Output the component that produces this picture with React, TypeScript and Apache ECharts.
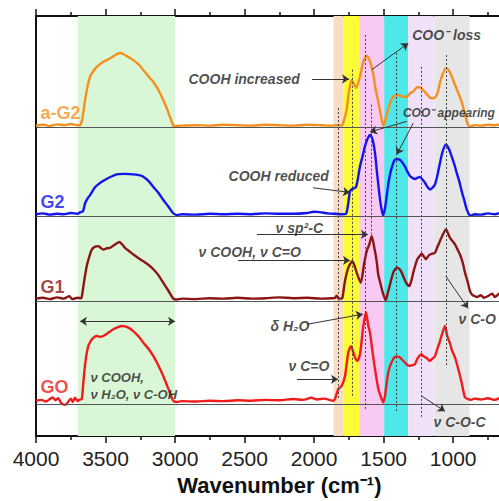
import React, { useEffect, useRef } from 'react';
import * as echarts from 'echarts';

const FONT = '"Liberation Sans", Arial, Helvetica, sans-serif';

// Wavenumber (cm-1), relative absorbance above each trace's baseline
const aG2 = [
  [4000, 0.05], [3950, 0.07], [3900, 0.04], [3850, 0.08], [3800, 0.06], [3750, 0.09], [3700, 0.06],
  [3680, 0.07], [3665, 0.25], [3640, 0.8], [3612, 1.21], [3580, 1.38], [3563, 1.45], [3516, 1.57],
  [3468, 1.65], [3420, 1.75], [3396, 1.78], [3370, 1.75], [3330, 1.67], [3300, 1.61], [3260, 1.5],
  [3228, 1.37], [3190, 1.22], [3156, 1.09], [3120, 0.9], [3085, 0.66], [3050, 0.38], [3013, 0.05],
  [3000, 0.04], [2950, 0.05], [2850, 0.06], [2750, 0.05], [2650, 0.07], [2550, 0.06], [2450, 0.05],
  [2350, 0.07], [2250, 0.06], [2150, 0.05], [2050, 0.07], [1950, 0.06], [1880, 0.05], [1830, 0.06],
  [1800, 0.05], [1792, 0.1], [1766, 0.43], [1750, 0.85], [1730, 1.14], [1715, 1.05], [1699, 0.95],
  [1670, 1.22], [1646, 1.57], [1622, 1.71], [1598, 1.58], [1574, 1.27], [1560, 0.95], [1539, 0.62],
  [1520, 0.3], [1503, 0.05], [1490, 0.15], [1469, 0.43], [1450, 0.62], [1433, 0.73], [1415, 0.77],
  [1397, 0.78], [1370, 0.75], [1350, 0.73], [1332, 0.74], [1310, 0.82], [1289, 0.86], [1270, 0.93],
  [1253, 0.97], [1235, 0.95], [1217, 0.9], [1190, 0.8], [1167, 0.71], [1150, 0.7], [1131, 0.72],
  [1110, 0.85], [1095, 1.07], [1075, 1.28], [1052, 1.42], [1030, 1.36], [1009, 1.21], [990, 1.05],
  [973, 0.9], [955, 0.76], [937, 0.59], [920, 0.38], [901, 0.14], [890, 0.05], [879, 0.03],
  [850, 0.06], [800, 0.05], [750, 0.07], [700, 0.06], [650, 0.08], [600, 0.05], [550, 0.06], [500, 0.05],
];

const g2 = [
  [4000, 0.05], [3950, 0.07], [3900, 0.04], [3850, 0.06], [3800, 0.05], [3750, 0.08], [3700, 0.06],
  [3680, 0.1], [3662, 0.12], [3648, 0.3], [3630, 0.42], [3612, 0.5], [3576, 0.69], [3545, 0.78],
  [3518, 0.84], [3470, 0.93], [3418, 1.0], [3360, 1.01], [3302, 1.0], [3260, 0.98], [3231, 0.95],
  [3190, 0.84], [3159, 0.71], [3120, 0.56], [3087, 0.4], [3050, 0.24], [3015, 0.08], [2986, 0.03],
  [2950, 0.05], [2850, 0.04], [2750, 0.06], [2650, 0.05], [2550, 0.06], [2450, 0.05], [2350, 0.07],
  [2250, 0.06], [2150, 0.06], [2050, 0.08], [2000, 0.11], [1960, 0.1], [1900, 0.07], [1850, 0.06],
  [1800, 0.05], [1771, 0.06], [1755, 0.3], [1742, 0.6], [1730, 0.64], [1718, 0.66], [1699, 0.7],
  [1685, 0.9], [1670, 1.19], [1650, 1.45], [1634, 1.67], [1615, 1.85], [1598, 1.94], [1585, 1.88],
  [1574, 1.75], [1560, 1.45], [1550, 1.11], [1526, 0.4], [1512, 0.12], [1503, 0.02], [1490, 0.2],
  [1478, 0.48], [1465, 0.8], [1449, 1.07], [1430, 1.28], [1418, 1.35], [1400, 1.36], [1382, 1.35],
  [1365, 1.28], [1347, 1.19], [1330, 1.07], [1311, 0.96], [1290, 0.91], [1275, 0.89], [1255, 0.92],
  [1239, 0.94], [1220, 0.87], [1203, 0.8], [1185, 0.7], [1167, 0.64], [1150, 0.68], [1131, 0.76],
  [1115, 0.95], [1095, 1.27], [1075, 1.55], [1052, 1.71], [1030, 1.6], [1011, 1.43], [990, 1.22],
  [975, 1.04], [955, 0.82], [939, 0.6], [920, 0.38], [903, 0.17], [885, 0.04], [867, 0.02],
  [850, 0.05], [800, 0.04], [750, 0.07], [700, 0.05], [650, 0.09], [600, 0.06], [500, 0.05],
];

const g1 = [
  [4000, 0.06], [3950, 0.08], [3900, 0.05], [3850, 0.09], [3800, 0.06], [3760, 0.12], [3740, 0.05],
  [3700, 0.08], [3680, 0.07], [3671, 0.1], [3655, 0.45], [3635, 0.84], [3615, 1.08], [3599, 1.23],
  [3575, 1.3], [3552, 1.31], [3535, 1.27], [3516, 1.23], [3490, 1.26], [3468, 1.27], [3440, 1.33],
  [3401, 1.41], [3380, 1.35], [3360, 1.27], [3330, 1.19], [3300, 1.11], [3265, 1.03], [3228, 0.95],
  [3190, 0.86], [3156, 0.76], [3120, 0.62], [3085, 0.44], [3050, 0.26], [3013, 0.06], [2990, 0.04],
  [2950, 0.06], [2850, 0.05], [2750, 0.07], [2650, 0.06], [2550, 0.08], [2450, 0.06], [2350, 0.07],
  [2250, 0.09], [2150, 0.07], [2050, 0.08], [1950, 0.06], [1880, 0.07], [1850, 0.08], [1838, 0.13],
  [1825, 0.07], [1800, 0.06], [1795, 0.1], [1778, 0.48], [1754, 0.8], [1725, 0.95], [1710, 0.85],
  [1694, 0.68], [1665, 0.44], [1641, 0.88], [1622, 1.19], [1603, 1.35], [1586, 1.55], [1567, 1.27],
  [1550, 0.95], [1539, 0.64], [1520, 0.38], [1503, 0.17], [1485, 0.02], [1470, 0.2], [1454, 0.4],
  [1440, 0.58], [1426, 0.72], [1402, 0.8], [1385, 0.76], [1370, 0.68], [1339, 0.44], [1316, 0.36],
  [1300, 0.5], [1287, 0.68], [1270, 0.88], [1258, 1.0], [1240, 1.08], [1226, 1.13], [1210, 1.06],
  [1196, 1.0], [1180, 1.07], [1167, 1.11], [1150, 1.13], [1131, 1.15], [1115, 1.28], [1095, 1.43],
  [1075, 1.58], [1052, 1.71], [1035, 1.6], [1023, 1.51], [1005, 1.43], [987, 1.35], [970, 1.24],
  [951, 1.11], [930, 0.9], [915, 0.68], [895, 0.45], [879, 0.24], [860, 0.14], [850, 0.13],
  [830, 0.1], [800, 0.14], [780, 0.08], [750, 0.12], [720, 0.18], [700, 0.1], [680, 0.15],
  [650, 0.22], [600, 0.12], [550, 0.15], [500, 0.1],
];

const go = [
  [4000, 0.08], [3960, 0.1], [3930, 0.06], [3900, 0.12], [3880, 0.16], [3860, 0.09], [3840, 0.14],
  [3820, 0.03], [3790, -0.02], [3770, 0.05], [3750, 0.13], [3735, 0.05], [3720, 0.15], [3700, 0.07],
  [3690, 0.1], [3671, 0.12], [3660, 0.5], [3648, 0.91], [3636, 1.2], [3624, 1.38], [3610, 1.48],
  [3599, 1.54], [3580, 1.6], [3563, 1.62], [3540, 1.6], [3516, 1.62], [3480, 1.7], [3444, 1.78],
  [3410, 1.83], [3384, 1.86], [3360, 1.85], [3336, 1.82], [3305, 1.75], [3276, 1.66], [3250, 1.56],
  [3228, 1.46], [3190, 1.31], [3156, 1.14], [3120, 0.92], [3085, 0.67], [3050, 0.38], [3013, 0.08],
  [2990, 0.05], [2950, 0.07], [2850, 0.06], [2750, 0.08], [2650, 0.07], [2550, 0.09], [2450, 0.08],
  [2350, 0.1], [2250, 0.09], [2150, 0.12], [2080, 0.1], [2020, 0.15], [1980, 0.11], [1930, 0.13],
  [1880, 0.09], [1860, 0.08], [1850, 0.12], [1826, 0.36], [1802, 0.43], [1778, 0.67], [1754, 1.23],
  [1735, 1.38], [1720, 1.25], [1706, 1.11], [1690, 1.03], [1677, 1.1], [1665, 1.3], [1646, 1.86],
  [1627, 2.19], [1610, 1.86], [1598, 1.7], [1582, 1.3], [1562, 0.83], [1538, 0.36], [1514, 0.12],
  [1503, 0.04], [1490, 0.2], [1478, 0.51], [1465, 0.78], [1449, 0.95], [1430, 1.08], [1418, 1.13],
  [1400, 1.13], [1382, 1.11], [1365, 1.05], [1347, 0.99], [1330, 0.93], [1311, 0.91], [1290, 0.93],
  [1275, 0.95], [1262, 1.05], [1251, 1.11], [1240, 1.16], [1226, 1.18], [1210, 1.13], [1196, 1.11],
  [1180, 1.06], [1167, 1.03], [1150, 1.08], [1131, 1.14], [1115, 1.3], [1095, 1.5], [1075, 1.72],
  [1059, 1.86], [1045, 1.65], [1034, 1.54], [1020, 1.42], [1011, 1.3], [987, 1.11], [963, 0.83],
  [939, 0.51], [915, 0.16], [891, 0.12], [870, 0.1], [850, 0.13], [800, 0.11], [750, 0.14],
  [700, 0.1], [650, 0.16], [600, 0.12], [500, 0.1],
];

const traceNames = ['a-G2', 'G2', 'G1', 'GO'];
const traceOffsets = [7.34, 5.23, 3.21, 0.76];
const traceColors = ['#f5901e', '#1414ee', '#8b1515', '#f01c1c'];
const traceData = [aG2, g2, g1, go];

// band ranges (cm-1)
const bandRanges = [
  [3700, 3000], [1860, 1790], [1790, 1676], [1676, 1496], [1496, 1324], [1324, 1140], [1137, 882],
];
const bandColors = ['#d9f7d6', '#f8dcc4', '#fbfb37', '#f8c9f3', '#4ee7ea', '#f0e1f8', '#e6e6e6'];

// dotted guide lines: wavenumber, top, bottom
const guideLines = [
  [1826, 7.81, 0.88], [1725, 8.72, 0.95], [1629, 9.55, 0.64], [1586, 7.89, 4.8],
  [1406, 9.12, 0.57], [1226, 8.79, 0.45], [1052, 9.07, 1.64],
];

const notes = [
  { text: 'COOH increased', at: [2907, 8.5], size: 14 },
  { text: 'COO\u207B loss', at: [1298, 9.55], size: 14 },
  { text: 'COO\u207B appearing', at: [1365, 7.7], size: 12 },
  { text: 'COOH reduced', at: [2619, 6.18], size: 14 },
  { text: '\u03BD sp\u00B2-C', at: [2281, 4.96], size: 14 },
  { text: '\u03BD COOH, \u03BD C=O', at: [2835, 4.37], size: 14 },
  { text: '\u03B4 H\u2082O', at: [2317, 2.61], size: 14 },
  { text: '\u03BD C=O', at: [2188, 1.66], size: 14 },
  { text: '\u03BD C-O', at: [965, 2.78], size: 14 },
  { text: '\u03BD C-O-C', at: [1145, 0.33], size: 14 },
  { text: '\u03BD COOH,', at: [3612, 1.4], size: 13 },
  { text: '\u03BD H\u2082O, \u03BD C-OH', at: [3612, 1.0], size: 13 },
];

const arrows = [
  { from: [2015, 8.5], to: [1749, 8.5], both: false },
  { from: [1586, 8.72], to: [1323, 9.35], both: false },
  { from: [1334, 7.49], to: [1598, 7.24], both: false },
  { from: [1287, 7.45], to: [1406, 6.7], both: false },
  { from: [2008, 5.91], to: [1742, 5.8], both: false },
  { from: [2411, 4.8], to: [1613, 4.8], both: false },
  { from: [2547, 4.18], to: [1742, 4.18], both: false },
  { from: [2051, 2.66], to: [1649, 2.9], both: false },
  { from: [2123, 1.35], to: [1828, 1.35], both: false },
  { from: [1052, 3.8], to: [893, 3.04], both: false },
  { from: [1226, 0.95], to: [1059, 0.59], both: false },
  { from: [3684, 2.73], to: [3000, 2.73], both: true },
];

const labelPos = [[3971, 7.7], [3971, 5.56], [3971, 3.54], [3971, 1.16]];

const CHART_W = 540;
const CHART_H = 501;
const GRID_LEFT = 36;
const GRID_TOP = 16;
const GRID_BOTTOM = 64;
const PLOT_W = 486.7;

function buildOption(): any {
  const axisCommon = {
    type: 'value',
    min: 500,
    max: 4000,
    interval: 500,
    inverse: true,
    splitLine: { show: false },
    minorSplitLine: { show: false },
    axisLine: { show: true, onZero: false, lineStyle: { color: '#111', width: 2 } },
    axisTick: { show: true, inside: false, length: 7, lineStyle: { color: '#111', width: 1.5 } },
    minorTick: { show: true, splitNumber: 2, length: 4, lineStyle: { color: '#111', width: 1.5 } },
  };

  const series: any[] = [];

  series.push({
    type: 'line',
    name: 'bands',
    data: [],
    z: 0,
    silent: true,
    markArea: {
      silent: true,
      data: bandRanges.map((r, i) => [
        { xAxis: r[0], itemStyle: { color: bandColors[i], opacity: 1 } },
        { xAxis: r[1] },
      ]),
    },
  });

  series.push({
    type: 'line',
    name: 'guides',
    data: [],
    z: 1,
    silent: true,
    markLine: {
      silent: true,
      symbol: ['none', 'none'],
      label: { show: false },
      data: [
        ...guideLines.map((g) => [
          { coord: [g[0], g[1]], lineStyle: { color: '#444', width: 1, type: [2, 2] } },
          { coord: [g[0], g[2]] },
        ]),
        ...traceOffsets.map((o) => ({ yAxis: o, lineStyle: { color: '#555', width: 1, type: 'solid' } })),
      ],
    },
  });

  traceData.forEach((pts, i) => {
    series.push({
      type: 'line',
      name: traceNames[i],
      data: pts.map(([w, a]) => [w, traceOffsets[i] + a]),
      showSymbol: false,
      smooth: 0.25,
      z: 3,
      lineStyle: { color: traceColors[i], width: 2.4 },
      itemStyle: { color: traceColors[i] },
    });
  });

  series.push({
    type: 'line',
    name: 'arrows',
    data: [],
    z: 4,
    silent: true,
    markLine: {
      silent: true,
      symbol: ['none', 'arrow'],
      symbolSize: 7,
      label: { show: false },
      lineStyle: { color: '#333', width: 1, type: 'solid' },
      data: arrows.map((a) => [
        { coord: a.from, symbol: a.both ? 'arrow' : 'none' },
        { coord: a.to, symbol: 'arrow' },
      ]),
    },
  });

  series.push({
    type: 'scatter',
    name: 'notes',
    z: 5,
    silent: true,
    symbolSize: 1,
    itemStyle: { color: 'rgba(0,0,0,0)' },
    data: notes.map((n) => ({
      value: n.at,
      label: {
        show: true,
        position: 'right',
        distance: 0,
        formatter: n.text,
        color: '#1e1e1e',
        fontSize: n.size,
        fontStyle: 'italic',
        fontWeight: 'bold',
        fontFamily: FONT,
        align: 'left',
        verticalAlign: 'middle',
      },
    })),
  });

  series.push({
    type: 'scatter',
    name: 'traceLabels',
    z: 5,
    silent: true,
    symbolSize: 1,
    itemStyle: { color: 'rgba(0,0,0,0)' },
    data: labelPos.map((p, i) => ({
      value: p,
      label: {
        show: true,
        position: 'right',
        distance: 0,
        formatter: traceNames[i],
        color: traceColors[i],
        fontSize: 18,
        fontWeight: 'bold',
        fontFamily: FONT,
        align: 'left',
        verticalAlign: 'middle',
      },
    })),
  });

  return {
    animation: false,
    backgroundColor: '#ffffff',
    grid: {
      left: GRID_LEFT,
      top: GRID_TOP,
      bottom: GRID_BOTTOM,
      right: CHART_W - GRID_LEFT - PLOT_W,
      containLabel: false,
    },
    xAxis: [
      {
        ...axisCommon,
        position: 'bottom',
        axisLabel: {
          fontSize: 21,
          color: '#222',
          fontFamily: FONT,
          margin: 12,
          formatter: (v: number) => (v < 1000 ? '' : String(v)),
        },
        name: 'Wavenumber (cm\u207B\u00B9)',
        nameLocation: 'middle',
        nameGap: 38,
        nameTextStyle: { fontSize: 22, fontWeight: 'bold', color: '#111', fontFamily: FONT },
      },
      {
        ...axisCommon,
        position: 'top',
        axisLabel: { show: false },
      },
    ],
    yAxis: {
      type: 'value',
      min: 0,
      max: 10,
      axisLine: { show: true, onZero: false, lineStyle: { color: '#111', width: 2 } },
      axisTick: { show: false },
      axisLabel: { show: false },
      splitLine: { show: false },
    },
    series,
  };
}

export default function App() {
  const ref = useRef<HTMLDivElement>(null);
  useEffect(() => {
    if (!ref.current) return;
    const chart = echarts.init(ref.current, undefined, { renderer: 'svg' });
    chart.setOption(buildOption());
    return () => {
      chart.dispose();
    };
  }, []);
  return (
    <div
      style={{
        position: 'fixed',
        left: 0,
        top: 0,
        width: 499,
        height: 501,
        overflow: 'hidden',
        background: '#fff',
      }}
    >
      <div ref={ref} style={{ width: CHART_W, height: CHART_H }} />
    </div>
  );
}
